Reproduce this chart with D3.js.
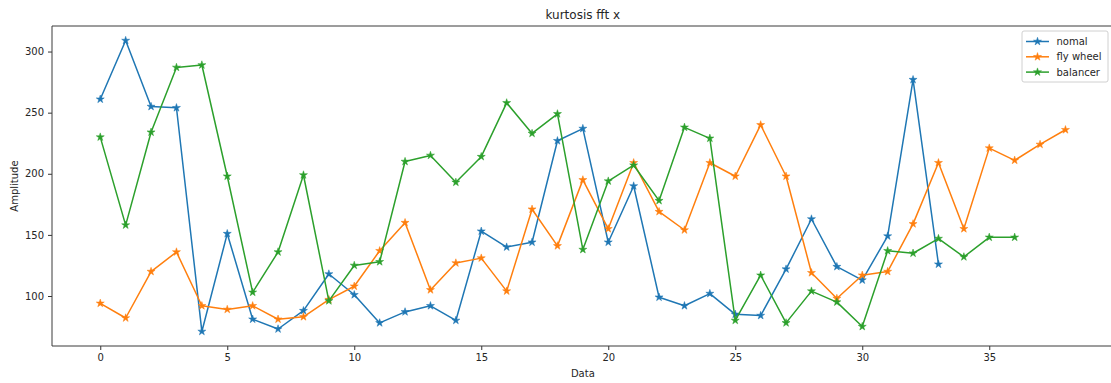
<!DOCTYPE html>
<html>
<head>
<meta charset="utf-8">
<script src="https://cdn.jsdelivr.net/npm/d3@7"></script>
<style>
  html, body { margin: 0; padding: 0; background: #fff; }
  svg { display: block; font-family: "DejaVu Sans", sans-serif; }
</style>
</head>
<body>
<svg id="chart" width="1111" height="383"></svg>
<script>
// Kurtosis of the FFT (x axis) for three machine conditions
const nomal = [261, 309, 255, 254, 71, 151, 81, 73, 88, 118, 101, 78, 87, 92, 80, 153, 140, 144, 227, 237,
  144, 190, 99, 92, 102, 85, 84, 122, 163, 124, 113, 149, 277, 126];
const flyWheel = [94, 82, 120, 136, 92, 89, 92, 81, 83, 97, 108, 137, 160, 105, 127, 131, 104, 171, 141, 195,
  155, 209, 169, 154, 209, 198, 240, 198, 119, 98, 117, 120, 159, 209, 155, 221, 211, 224, 236];
const balancer = [230, 158, 234, 287, 289, 198, 103, 136, 199, 96, 125, 128, 210, 215, 193, 214, 258, 233, 249, 138,
  194, 207, 178, 238, 229, 80, 117, 78, 104, 95, 75, 137, 135, 147, 132, 148, 148];

const seriesNames = ["nomal", "fly wheel", "balancer"];
const seriesValues = [nomal, flyWheel, balancer];
const seriesColors = ["#1f77b4", "#ff7f0e", "#2ca02c"];
const xTicks = [0, 5, 10, 15, 20, 25, 30, 35];
const yTicks = [100, 150, 200, 250, 300];

const svg = d3.select("#chart");
const plotLeft = 52, plotTop = 26, plotBottom = 346;

// Data limits padded by 5% on each side
const maxLen = d3.max(seriesValues, s => s.length) - 1;
const xPad = maxLen * 0.05;
const allVals = seriesValues.flat();
const yMin = d3.min(allVals), yMax = d3.max(allVals);
const yPad = (yMax - yMin) * 0.05;

const unit = 25.4;
const plotRight = plotLeft + (maxLen + 2 * xPad) * unit;

const x = d3.scaleLinear().domain([-xPad, maxLen + xPad]).range([plotLeft, plotRight]);
const y = d3.scaleLinear().domain([yMin - yPad, yMax + yPad]).range([plotBottom, plotTop]);

// Axes
const xAxis = svg.append("g")
  .attr("transform", `translate(0,${plotBottom})`)
  .call(d3.axisBottom(x).tickValues(xTicks).tickSize(4).tickPadding(4));
const yAxis = svg.append("g")
  .attr("transform", `translate(${plotLeft},0)`)
  .call(d3.axisLeft(y).tickValues(yTicks).tickSize(4).tickPadding(4));

[xAxis, yAxis].forEach(g => {
  g.select(".domain").remove();
  g.selectAll("line").attr("stroke", "#333").attr("stroke-width", 1);
  g.selectAll("text").attr("fill", "#262626").attr("font-size", 10).attr("font-family", "DejaVu Sans, sans-serif");
});

// Spines (the right one falls just past the canvas edge)
const spines = svg.append("g").attr("stroke", "#3a3a3a").attr("stroke-width", 1).attr("fill", "none");
spines.append("line").attr("x1", plotLeft).attr("x2", plotRight).attr("y1", plotTop).attr("y2", plotTop);
spines.append("line").attr("x1", plotLeft).attr("x2", plotRight).attr("y1", plotBottom).attr("y2", plotBottom);
spines.append("line").attr("x1", plotLeft).attr("x2", plotLeft).attr("y1", plotTop).attr("y2", plotBottom);

// Lines with star markers
const line = d3.line().x((d, i) => x(i)).y(d => y(d));
const star = d3.symbol().type(d3.symbolStar).size(20);

seriesValues.forEach((vals, k) => {
  svg.append("path")
    .datum(vals)
    .attr("d", line)
    .attr("fill", "none")
    .attr("stroke", seriesColors[k])
    .attr("stroke-width", 1.5)
    .attr("stroke-linejoin", "round");
  svg.append("g").selectAll("path")
    .data(vals)
    .join("path")
    .attr("d", star)
    .attr("transform", (d, i) => `translate(${x(i)},${y(d)})`)
    .attr("fill", seriesColors[k])
    .attr("stroke", seriesColors[k])
    .attr("stroke-width", 0.5);
});

// Title and axis labels
svg.append("text")
  .attr("x", (plotLeft + plotRight) / 2).attr("y", 19)
  .attr("text-anchor", "middle")
  .attr("font-size", 12).attr("fill", "#262626")
  .text("kurtosis fft x");

svg.append("text")
  .attr("x", (plotLeft + plotRight) / 2).attr("y", 377)
  .attr("text-anchor", "middle")
  .attr("font-size", 10).attr("fill", "#262626")
  .text("Data");

svg.append("text")
  .attr("transform", `translate(18,${(plotTop + plotBottom) / 2}) rotate(-90)`)
  .attr("text-anchor", "middle")
  .attr("font-size", 10).attr("fill", "#262626")
  .text("Amplitude");

// Legend
const legend = svg.append("g").attr("transform", "translate(1022,31)");
legend.append("rect")
  .attr("width", 86).attr("height", 51)
  .attr("rx", 2)
  .attr("fill", "#fff").attr("fill-opacity", 0.8)
  .attr("stroke", "#d0d0d0").attr("stroke-width", 1);

seriesNames.forEach((name, k) => {
  const g = legend.append("g").attr("transform", `translate(0,${10.5 + k * 15.3})`);
  g.append("line")
    .attr("x1", 4).attr("x2", 27)
    .attr("stroke", seriesColors[k]).attr("stroke-width", 1.5);
  g.append("path")
    .attr("d", star)
    .attr("transform", "translate(15.5,0)")
    .attr("fill", seriesColors[k])
    .attr("stroke", seriesColors[k])
    .attr("stroke-width", 0.5);
  g.append("text")
    .attr("x", 34.5).attr("y", 3.6)
    .attr("font-size", 10).attr("fill", "#262626")
    .text(name);
});
</script>
</body>
</html>
